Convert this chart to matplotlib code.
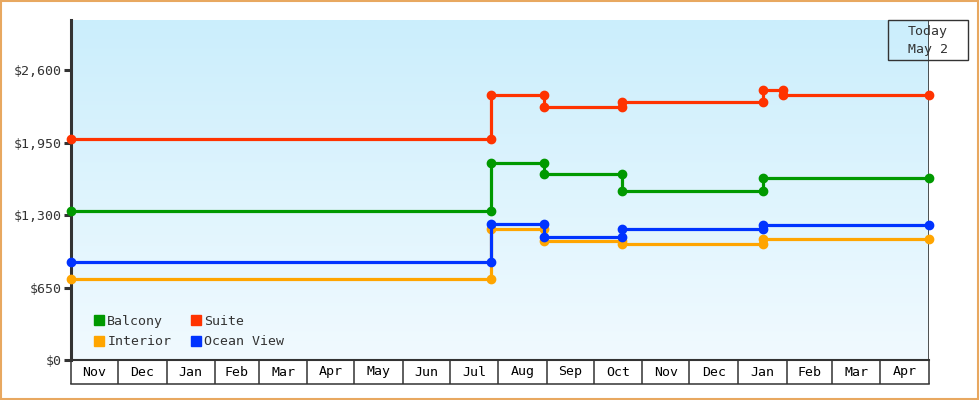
import datetime as dt
import matplotlib
matplotlib.use("Agg")
import matplotlib.pyplot as plt
import matplotlib.dates as mdates
import numpy as np
from matplotlib.lines import Line2D
from matplotlib.patches import Rectangle

D = dt.date
start = D(2022, 11, 1)
today = D(2024, 5, 2)

# change dates and price levels per cabin type
balcony_dates = [D(2023, 7, 27), D(2023, 8, 30), D(2023, 10, 19), D(2024, 1, 17)]
balcony_vals = [1333, 1770, 1672, 1519, 1636]
suite_dates = [D(2023, 7, 27), D(2023, 8, 30), D(2023, 10, 19), D(2024, 1, 17), D(2024, 1, 30)]
suite_vals = [1985, 2374, 2273, 2318, 2419, 2374]
interior_dates = [D(2023, 7, 27), D(2023, 8, 30), D(2023, 10, 19), D(2024, 1, 17)]
interior_vals = [730, 1172, 1067, 1038, 1089]
ocean_dates = [D(2023, 7, 27), D(2023, 8, 30), D(2023, 10, 19), D(2024, 1, 17)]
ocean_vals = [879, 1217, 1107, 1172, 1208]

month_names = ["Nov", "Dec", "Jan", "Feb", "Mar", "Apr", "May", "Jun", "Jul",
               "Aug", "Sep", "Oct", "Nov", "Dec", "Jan", "Feb", "Mar", "Apr"]
yticks = [0, 650, 1300, 1950, 2600]

series = [
    ("Balcony", balcony_dates, balcony_vals, "#009900"),
    ("Interior", interior_dates, interior_vals, "#ffa500"),
    ("Suite", suite_dates, suite_vals, "#ff3300"),
    ("Ocean View", ocean_dates, ocean_vals, "#0033ff"),
]

FONT = "DejaVu Sans Mono"
DARK = "#333333"

fig = plt.figure(figsize=(9.8, 4), dpi=100)
ax = fig.add_axes([71 / 980, 40 / 400, 858 / 980, 340 / 400])

x0, x1 = mdates.date2num(start), mdates.date2num(today)
ymax = 3050
ax.set_xlim(x0, x1)
ax.set_ylim(0, ymax)

# gradient background
grad = np.linspace(0, 1, 256).reshape(-1, 1)
top = np.array([203, 238, 252]) / 255
bot = np.array([241, 250, 255]) / 255
img = top * (1 - grad[..., None]) + bot * grad[..., None]
img = np.repeat(img, 2, axis=1)
ax.imshow(img, extent=[x0, x1, 0, ymax], aspect="auto", origin="upper", zorder=0)

# step lines
for name, dates, vals, col in series:
    xs = [start]
    ys = [vals[0]]
    for i, d in enumerate(dates):
        xs += [d, d]
        ys += [vals[i], vals[i + 1]]
    xs.append(today)
    ys.append(vals[-1])
    ax.plot(mdates.date2num(xs), ys, color=col, lw=2.3, marker="o", ms=6,
            mec=col, zorder=3, clip_on=False)

# axes styling
for s in ["top", "right"]:
    ax.spines[s].set_visible(False)
ax.spines["left"].set_linewidth(2.2)
ax.spines["left"].set_color(DARK)
ax.spines["bottom"].set_linewidth(1.5)
ax.spines["bottom"].set_color(DARK)
ax.axvline(x1, color=DARK, lw=1.2, zorder=2)

ax.set_yticks(yticks)
ax.set_yticklabels(["${:,}".format(v) for v in yticks], fontfamily=FONT, fontsize=9.5, color=DARK)
ax.tick_params(axis="y", length=5, width=2.2, color=DARK, pad=2)

# month boxes on x axis
bounds = []
y, m = 2022, 11
for i in range(len(month_names) + 1):
    bounds.append(mdates.date2num(D(y, m, 1)))
    m += 1
    if m > 12:
        m, y = 1, y + 1
bounds[-1] = x1
ax.set_xticks(bounds[:-1] + [x1])
ax.set_xticklabels([])
ax.tick_params(axis="x", length=17.5, width=1.1, color=DARK, direction="out")
box_h = 24 / 340
ax.plot([x0, x1], [-box_h, -box_h], transform=ax.get_xaxis_transform(),
        color=DARK, lw=1.1, clip_on=False)
for i, name in enumerate(month_names):
    mid = (bounds[i] + bounds[i + 1]) / 2
    ax.text(mid, -box_h / 2, name, transform=ax.get_xaxis_transform(),
            ha="center", va="center", fontfamily=FONT, fontsize=9.5, color="black")

# legend
handles = [Line2D([], [], ls="none", marker="s", ms=7.5, color=c, label=n) for n, _, _, c in series]
leg = ax.legend(handles=handles, ncol=2, loc="lower left", bbox_to_anchor=(0.01, 0.0),
                frameon=False, handletextpad=0.0, columnspacing=1.3, labelspacing=0.55,
                prop={"family": FONT, "size": 9.5}, handlelength=1.2)
for t in leg.get_texts():
    t.set_color(DARK)

# today box
fig.patches.append(Rectangle((888 / 980, 340 / 400), 80 / 980, 40 / 400,
                             transform=fig.transFigure, fill=False, ec=DARK, lw=1, zorder=5))
fig.text(928 / 980, 368 / 400, "Today", ha="center", va="center",
         fontfamily=FONT, fontsize=9.5, color=DARK)
fig.text(928 / 980, 350 / 400, "May 2", ha="center", va="center",
         fontfamily=FONT, fontsize=9.5, color=DARK)

# orange frame
fig.patches.append(Rectangle((0.001, 0.002), 0.997, 0.995, transform=fig.transFigure,
                             fill=False, ec="#e8a860", lw=1.5))

fig.savefig("out.png", dpi=100)
